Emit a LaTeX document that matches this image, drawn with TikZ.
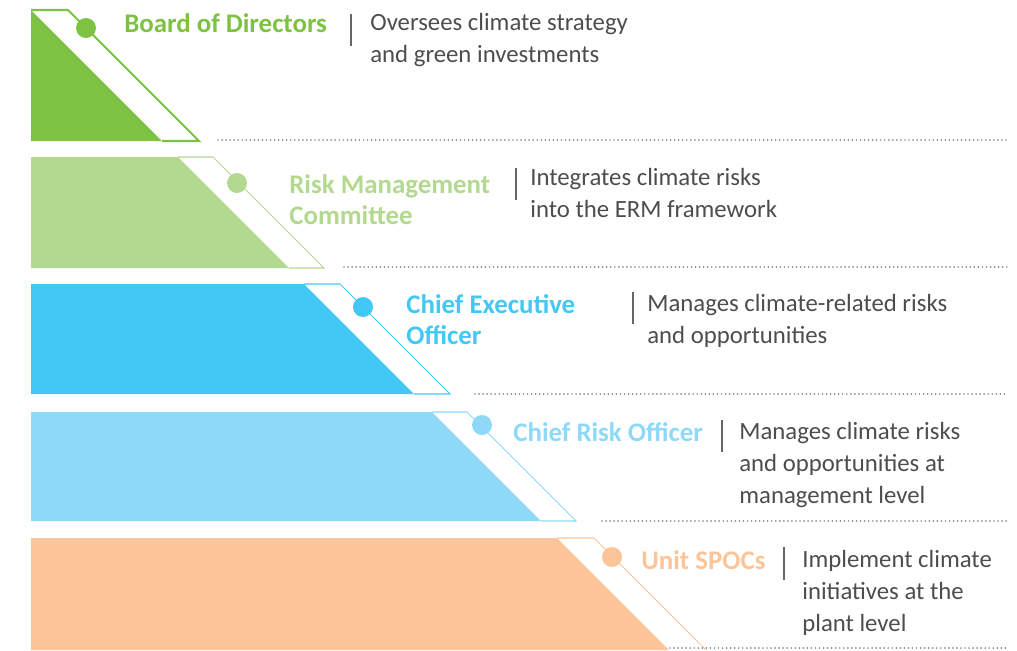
\documentclass[tikz,border=0pt]{standalone}
\usepackage{fontspec}
\setmainfont{Carlito}
\usetikzlibrary{calc}
\definecolor{cboard}{RGB}{125,194,66}
\definecolor{crisk}{RGB}{179,216,143}
\definecolor{cceo}{RGB}{67,200,245}
\definecolor{ccro}{RGB}{142,216,248}
\definecolor{cspoc}{RGB}{251,196,153}
\definecolor{txtgray}{RGB}{77,77,77}
\begin{document}
\begin{tikzpicture}[x=0.02cm,y=-0.02cm,
  ttl/.style={anchor=west,inner sep=0pt,align=left,font=\bfseries\fontsize{15.3}{17.6}\selectfont},
  dsc/.style={anchor=west,inner sep=0pt,align=left,text=txtgray,font=\fontsize{14.1}{18.1}\selectfont},
  dot/.style={circle,inner sep=0pt,minimum size=0.4cm},
  sep/.style={draw=black!60,line width=0.9pt},
  rule/.style={draw=black!45,line width=1.1pt,dash pattern=on 0pt off 2.3pt,line cap=round}]
\useasboundingbox(0,0)rectangle(1017,650);
\clip(0,0)rectangle(1017,650);
% Board of Directors
\fill[cboard](31,10)--(162,141)--(31,141)--cycle;
\draw[cboard,line width=1.2pt](31,10)--(68,10)--(199,141)--(162,141);
\node[dot,fill=cboard](d1)at(86,28){};
\node[ttl,text=cboard](t1)at(124,23){Board of Directors};
\draw[sep](351,14)--(351,46);
\node[dsc](e1)at(370,40){Oversees climate strategy\\and green investments};
\draw[rule](218,140)--(1008,140);
% Risk Management Committee
\fill[crisk](31,157)--(178,157)--(289,268)--(31,268)--cycle;
\draw[crisk,line width=0.6pt](178,157)--(213,157)--(324,268)--(289,268);
\node[dot,fill=crisk](d2)at(237,183){};
\node[ttl,text=crisk](t2)at(289,199.5){Risk Management\\Committee};
\draw[sep](516,168)--(516,200);
\node[dsc](e2)at(530,193){Integrates climate risks\\into the ERM framework};
\draw[rule](344,267)--(1008,267);
% Chief Executive Officer
\fill[cceo](31,284)--(304,284)--(414,394)--(31,394)--cycle;
\draw[cceo,line width=0.6pt](304,284)--(340,284)--(450,394)--(414,394);
\node[dot,fill=cceo](d3)at(363,307){};
\node[ttl,text=cceo](t3)at(406,319.5){Chief Executive\\Officer};
\draw[sep](633,292)--(633,324);
\node[dsc](e3)at(647,321){Manages climate-related risks\\and opportunities};
\draw[rule](475,394)--(1008,394);
% Chief Risk Officer
\fill[ccro](31,412)--(432,412)--(541,521)--(31,521)--cycle;
\draw[ccro,line width=0.6pt](432,412)--(467,412)--(576,521)--(541,521);
\node[dot,fill=ccro](d4)at(482,425){};
\node[ttl,text=ccro](t4)at(513,432){Chief Risk Officer};
\draw[sep](722,420)--(722,452);
\node[dsc](e4)at(739,465){Manages climate risks\\and opportunities at\\management level};
\draw[rule](602,521)--(1008,521);
% Unit SPOCs
\fill[cspoc](31,538)--(557,538)--(669,650)--(31,650)--cycle;
\draw[cspoc,line width=0.6pt](557,538)--(594,538)--(706,650);
\node[dot,fill=cspoc](d5)at(612,557){};
\node[ttl,text=cspoc](t5)at(641,560){Unit SPOCs};
\draw[sep](784,547)--(784,580);
\node[dsc](e5)at(802,593){Implement climate\\initiatives at the\\plant level};
\draw[rule](670,648)--(1008,648);
\end{tikzpicture}
\end{document}
